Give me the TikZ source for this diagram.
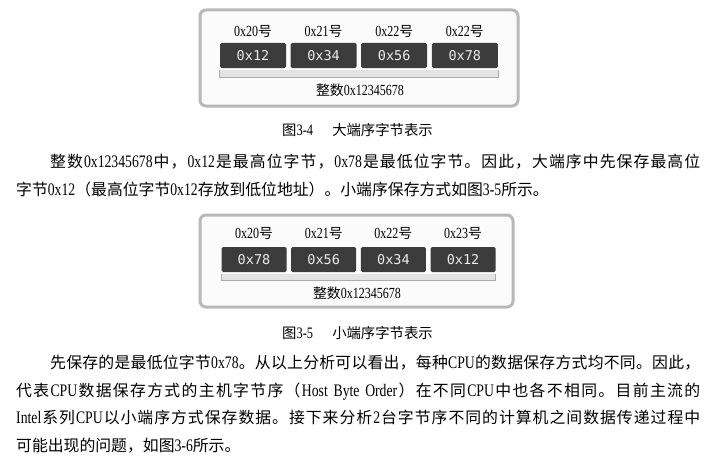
\documentclass[tikz,border=0pt]{standalone}
\usepackage{fontspec}
\usepackage{xcolor}
\setmainfont{Liberation Serif}[Scale=1.1,FakeStretch=0.78]
\newfontfamily\cjk[Scale=0.99]{Noto Sans CJK SC}
\newfontfamily\bytefont{DejaVu Sans Mono}
\definecolor{bytegray}{HTML}{3C3C3C}
\definecolor{framegray}{HTML}{B8B8B8}

% Chinese characters switch to the CJK font by themselves
\XeTeXinterchartokenstate=1
\newXeTeXintercharclass\cjkclass
\newcount\cjkchar
\def\setcjkrange#1#2{\cjkchar=#1
  \loop\XeTeXcharclass\cjkchar=\cjkclass
  \ifnum\cjkchar<#2 \advance\cjkchar by 1 \repeat}
\setcjkrange{"3000}{"303F}
\setcjkrange{"4E00}{"9FFF}
\setcjkrange{"FF00}{"FFEF}
\XeTeXinterchartoks 0 \cjkclass={\hskip0pt plus 1pt\cjk}
\XeTeXinterchartoks 4095 \cjkclass={\cjk}
\XeTeXinterchartoks \cjkclass 0={\hskip0pt plus 1pt\rmfamily}
\XeTeXinterchartoks \cjkclass \cjkclass={\hskip0pt plus 1pt}

\begin{document}
\begin{tikzpicture}[x=1pt,y=-1pt]
\tikzset{
  frame/.style={draw=framegray,line width=3pt,fill=gray!3,rounded corners=6pt},
  bytebox/.style={fill=bytegray,rounded corners=1.5pt,minimum height=25pt,inner sep=0pt,
    text=gray!15,font=\bytefont\fontsize{13.5}{13.5}\selectfont},
  addr/.style={inner sep=0pt,anchor=base,font=\fontsize{14}{16}\selectfont},
  caption/.style={inner sep=0pt,anchor=base west,font=\fontsize{14.5}{16}\selectfont},
  textline/.style={inner sep=0pt,anchor=base west,font=\fontsize{16}{18}\selectfont},
  bar/.style={fill=gray!22},
  barline/.style={draw=gray!65,line width=0.7pt}
}
\useasboundingbox[fill=white] (0,0) rectangle (719,460);

% big endian
\draw[frame] (200,10) rectangle (518,106);
\foreach \addr/\val [count=\i from 0] in {0x20号/0x12,0x21号/0x34,0x22号/0x56,0x22号/0x78}{
  \node[bytebox,minimum width=66pt] (big\i) at (253+\i*70.6,55.5) {\val};
  \node[addr] (bigaddr\i) at (253+\i*70.6,37) {\addr};
}
\coordinate (bigbarl) at ([yshift=-2pt]big0.south west);
\coordinate (bigbarr) at ([yshift=-9pt]big3.south east);
\fill[bar] (bigbarl) rectangle (bigbarr);
\draw[barline] (bigbarl) |- (bigbarr) -- (bigbarr |- bigbarl);
\node[addr] (bigsum) at (360,95) {整数0x12345678};
\node[caption] (cap34) at (282,135) {图3-4\hspace{1.2em}大端序字节表示};

\node[textline] (p1a) at (50,167) {\makebox[650pt][s]{整数0x12345678中，0x12是最高位字节，0x78是最低位字节。因此，大端序中先保存最高位}};
\node[textline] (p1b) at (16,195) {字节0x12（最高位字节0x12存放到低位地址）。小端序保存方式如图3-5所示。};

% little endian
\draw[frame] (200,215) rectangle (513,307);
\foreach \addr/\val [count=\i from 0] in {0x20号/0x78,0x21号/0x56,0x22号/0x34,0x23号/0x12}{
  \node[bytebox,minimum width=65pt] (lit\i) at (254+\i*69.7,259.5) {\val};
  \node[addr] (litaddr\i) at (254+\i*69.7,238) {\addr};
}
\coordinate (litbarl) at ([yshift=-2pt]lit0.south west);
\coordinate (litbarr) at ([yshift=-8pt]lit3.south east);
\fill[bar] (litbarl) rectangle (litbarr);
\draw[barline] (litbarl) |- (litbarr) -- (litbarr |- litbarl);
\node[addr] (litsum) at (357,298) {整数0x12345678};
\node[caption] (cap35) at (282,338) {图3-5\hspace{1.2em}小端序字节表示};

\node[textline] (p2a) at (50,368) {\makebox[650pt][s]{先保存的是最低位字节0x78。从以上分析可以看出，每种CPU的数据保存方式均不同。因此，}};
\node[textline] (p2b) at (16,396) {\makebox[684pt][s]{代表CPU数据保存方式的主机字节序（Host Byte Order）在不同CPU中也各不相同。目前主流的}};
\node[textline] (p2c) at (16,423) {\makebox[684pt][s]{Intel系列CPU以小端序方式保存数据。接下来分析2台字节序不同的计算机之间数据传递过程中}};
\node[textline] (p2d) at (16,451) {可能出现的问题，如图3-6所示。};
\end{tikzpicture}
\end{document}
